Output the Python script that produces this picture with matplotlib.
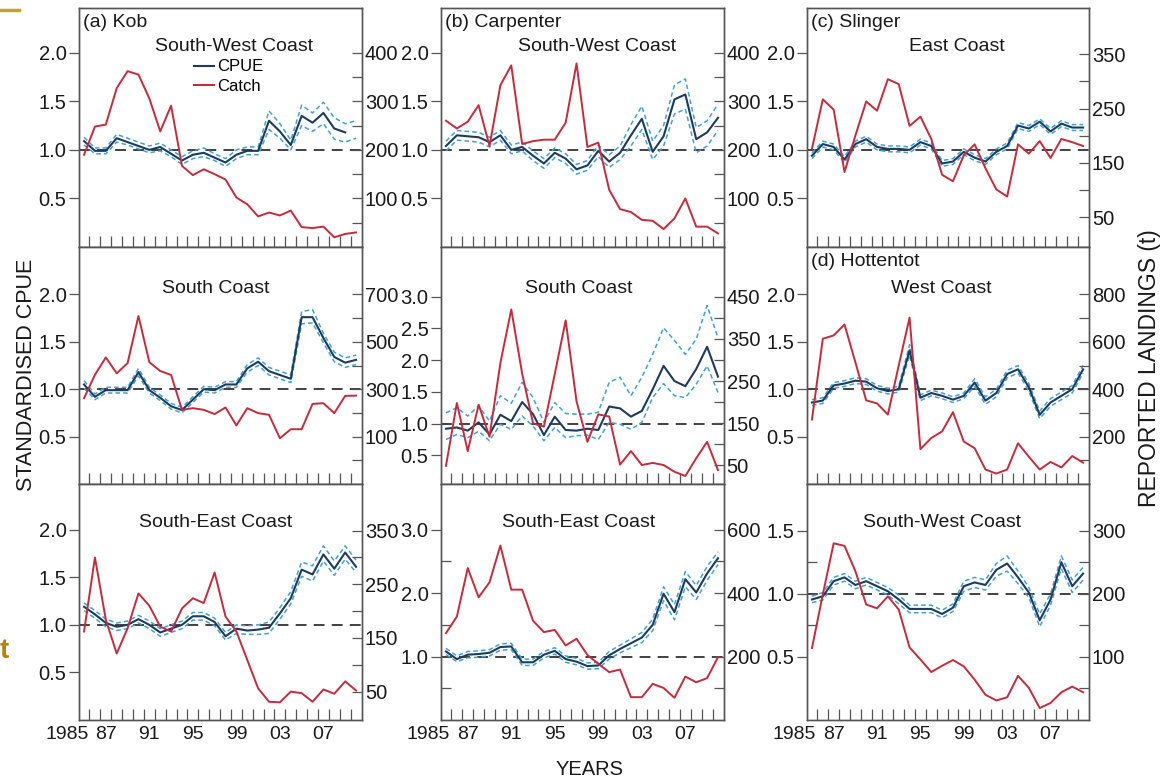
import numpy as np
import matplotlib.pyplot as plt
from matplotlib.lines import Line2D

plt.rcParams['font.family'] = ['Liberation Sans', 'DejaVu Sans']

years = np.arange(1985, 2011)
nan = np.nan

# (a) Kob - South-West Coast
kob_sw_cpue = [1.09, 0.99, 0.99, 1.12, 1.08, 1.04, 1.00, 1.03, 0.96, 0.89, 0.95, 0.97, 0.92,
               0.87, 0.95, 0.99, 0.99, 1.30, 1.19, 1.05, 1.35, 1.28, 1.38, 1.22, 1.18, nan]
kob_sw_lo = [1.05, 0.96, 0.96, 1.08, 1.05, 1.01, 0.97, 0.99, 0.93, 0.85, 0.91, 0.93, 0.89,
             0.83, 0.91, 0.95, 0.95, 1.21, 1.12, 1.00, 1.25, 1.19, 1.27, 1.11, 1.08, 1.12]
kob_sw_hi = [1.13, 1.02, 1.02, 1.16, 1.12, 1.08, 1.04, 1.07, 1.00, 0.93, 0.99, 1.02, 0.96,
             0.91, 1.00, 1.03, 1.03, 1.40, 1.27, 1.10, 1.46, 1.38, 1.49, 1.33, 1.27, 1.30]
kob_sw_catch = [190, 248, 252, 327, 362, 355, 306, 238, 291, 167, 148, 160, 150,
                139, 102, 88, 63, 71, 65, 75, 41, 39, 42, 20, 27, 30]

# (b) Carpenter - South-West Coast
carp_sw_cpue = [1.04, 1.15, 1.14, 1.13, 1.08, 1.15, 1.00, 1.03, 0.94, 0.86, 0.97, 0.91, 0.80,
                0.84, 0.99, 0.88, 0.97, 1.15, 1.32, 0.98, 1.14, 1.52, 1.57, 1.11, 1.18, 1.33]
carp_sw_lo = [0.99, 1.10, 1.09, 1.08, 1.03, 1.10, 0.96, 0.99, 0.89, 0.81, 0.92, 0.86, 0.75,
              0.79, 0.93, 0.82, 0.90, 1.04, 1.21, 0.90, 1.04, 1.37, 1.42, 0.97, 1.04, 1.20]
carp_sw_hi = [1.09, 1.20, 1.19, 1.18, 1.13, 1.20, 1.05, 1.08, 0.99, 0.91, 1.02, 0.96, 0.85,
              0.89, 1.05, 0.95, 1.04, 1.26, 1.45, 1.09, 1.25, 1.67, 1.73, 1.23, 1.30, 1.47]
carp_sw_catch = [260, 244, 258, 292, 208, 333, 374, 212, 218, 221, 221, 256, 378,
                 206, 215, 118, 78, 72, 56, 54, 37, 59, 100, 42, 42, 28]

# (c) Slinger - East Coast
sling_cpue = [0.94, 1.06, 1.03, 0.90, 1.06, 1.11, 1.03, 1.01, 1.01, 1.00, 1.08, 1.04, 0.86,
              0.88, 0.98, 0.92, 0.88, 0.98, 1.04, 1.25, 1.22, 1.29, 1.19, 1.27, 1.23, 1.23]
sling_lo = [0.91, 1.03, 1.00, 0.87, 1.03, 1.08, 1.00, 0.98, 0.98, 0.97, 1.05, 1.01, 0.83,
            0.85, 0.95, 0.89, 0.85, 0.95, 1.01, 1.22, 1.19, 1.26, 1.16, 1.24, 1.20, 1.20]
sling_hi = [0.97, 1.09, 1.06, 0.93, 1.09, 1.14, 1.06, 1.04, 1.04, 1.03, 1.11, 1.07, 0.89,
            0.91, 1.01, 0.95, 0.91, 1.01, 1.07, 1.28, 1.25, 1.32, 1.22, 1.30, 1.26, 1.26]
sling_catch = [176, 267, 248, 133, 200, 263, 246, 304, 295, 218, 235, 194, 128,
               116, 164, 184, 140, 101, 88, 184, 167, 190, 159, 194, 188, 181]

# Kob - South Coast
kob_s_cpue = [1.05, 0.92, 0.99, 0.99, 0.99, 1.18, 0.99, 0.91, 0.82, 0.78, 0.89, 1.00, 0.99,
              1.05, 1.05, 1.22, 1.29, 1.19, 1.15, 1.11, 1.76, 1.76, 1.54, 1.34, 1.28, 1.31]
kob_s_lo = [1.01, 0.89, 0.96, 0.96, 0.96, 1.14, 0.96, 0.88, 0.79, 0.75, 0.86, 0.97, 0.96,
            1.02, 1.02, 1.18, 1.25, 1.15, 1.11, 1.07, 1.69, 1.70, 1.49, 1.29, 1.23, 1.26]
kob_s_hi = [1.09, 0.95, 1.02, 1.02, 1.02, 1.22, 1.02, 0.94, 0.85, 0.81, 0.92, 1.03, 1.02,
            1.08, 1.08, 1.26, 1.33, 1.23, 1.19, 1.15, 1.82, 1.84, 1.59, 1.39, 1.33, 1.36]
kob_s_catch = [262, 361, 434, 367, 410, 609, 414, 377, 360, 213, 220, 213, 195,
               223, 147, 220, 199, 192, 93, 131, 131, 238, 241, 199, 272, 273]

# Carpenter - South Coast
carp_s_cpue = [0.92, 0.94, 0.89, 1.02, 0.83, 1.14, 1.04, 1.34, 1.15, 0.82, 1.11, 0.90, 0.89,
               0.92, 0.90, 1.27, 1.24, 1.11, 1.20, 1.54, 1.91, 1.67, 1.59, 1.86, 2.21, 1.74]
carp_s_lo = [0.75, 0.83, 0.78, 0.88, 0.73, 0.99, 0.91, 1.12, 0.96, 0.73, 0.94, 0.78, 0.81,
             0.82, 0.75, 1.02, 0.99, 0.91, 1.02, 1.41, 1.63, 1.44, 1.41, 1.62, 1.91, 1.49]
carp_s_hi = [1.17, 1.25, 1.12, 1.28, 1.04, 1.44, 1.32, 1.65, 1.41, 1.02, 1.33, 1.16, 1.15,
             1.15, 1.18, 1.65, 1.73, 1.44, 1.73, 2.09, 2.51, 2.31, 2.09, 2.33, 2.86, 2.35]
carp_s_catch = [49, 198, 84, 194, 118, 293, 420, 268, 150, 142, 267, 394, 202,
                106, 171, 166, 52, 84, 51, 56, 51, 35, 25, 67, 106, 39]

# (d) Hottentot - West Coast
hot_w_cpue = [0.86, 0.88, 1.04, 1.06, 1.09, 1.08, 1.01, 0.98, 1.00, 1.41, 0.91, 0.96, 0.93,
              0.89, 0.93, 1.07, 0.88, 0.96, 1.16, 1.21, 1.02, 0.73, 0.86, 0.93, 1.00, 1.21]
hot_w_lo = [0.83, 0.85, 1.01, 1.03, 1.06, 1.05, 0.98, 0.95, 0.97, 1.36, 0.88, 0.93, 0.90,
            0.86, 0.90, 1.03, 0.84, 0.92, 1.12, 1.17, 0.98, 0.69, 0.82, 0.89, 0.96, 1.17]
hot_w_hi = [0.89, 0.91, 1.07, 1.09, 1.12, 1.11, 1.04, 1.01, 1.03, 1.47, 0.94, 0.99, 0.96,
            0.92, 0.96, 1.11, 0.92, 1.00, 1.20, 1.25, 1.06, 0.77, 0.90, 0.97, 1.04, 1.25]
hot_w_catch = [272, 613, 627, 673, 514, 353, 340, 293, 500, 702, 147, 194, 222,
               303, 179, 151, 61, 44, 61, 172, 115, 61, 93, 70, 118, 90]

# Kob - South-East Coast
kob_se_cpue = [1.19, 1.11, 1.02, 0.98, 1.00, 1.06, 1.00, 0.92, 0.96, 1.00, 1.09, 1.09, 1.03,
               0.88, 0.96, 0.94, 0.95, 0.97, 1.12, 1.28, 1.58, 1.53, 1.74, 1.59, 1.76, 1.61]
kob_se_lo = [1.15, 1.07, 0.98, 0.94, 0.96, 1.02, 0.96, 0.88, 0.92, 0.96, 1.05, 1.05, 0.99,
             0.84, 0.91, 0.90, 0.90, 0.91, 1.06, 1.22, 1.51, 1.46, 1.67, 1.52, 1.69, 1.55]
kob_se_hi = [1.23, 1.15, 1.06, 1.02, 1.04, 1.10, 1.04, 0.96, 1.00, 1.04, 1.13, 1.13, 1.07,
             0.92, 1.00, 0.99, 1.00, 1.03, 1.18, 1.35, 1.66, 1.62, 1.83, 1.67, 1.83, 1.68]
kob_se_catch = [162, 300, 184, 121, 168, 233, 210, 171, 162, 205, 224, 215, 272,
                190, 162, 109, 56, 31, 30, 50, 47, 31, 54, 46, 69, 52]

# Carpenter - South-East Coast
carp_se_cpue = [1.08, 0.96, 1.03, 1.04, 1.06, 1.15, 1.16, 0.91, 0.91, 1.03, 1.09, 0.96, 0.92,
                0.85, 0.86, 1.02, 1.12, 1.21, 1.30, 1.50, 1.99, 1.70, 2.22, 2.01, 2.31, 2.55]
carp_se_lo = [1.03, 0.92, 0.98, 0.99, 1.01, 1.10, 1.11, 0.86, 0.86, 0.98, 1.04, 0.91, 0.87,
              0.80, 0.81, 0.96, 1.06, 1.14, 1.22, 1.41, 1.88, 1.58, 2.10, 1.90, 2.20, 2.45]
carp_se_hi = [1.13, 1.01, 1.08, 1.09, 1.11, 1.20, 1.21, 0.96, 0.96, 1.08, 1.14, 1.01, 0.97,
              0.90, 0.91, 1.08, 1.18, 1.28, 1.38, 1.59, 2.10, 1.82, 2.34, 2.12, 2.42, 2.65]
carp_se_catch = [274, 326, 479, 387, 434, 550, 411, 411, 313, 277, 284, 235, 256,
                 205, 177, 151, 159, 72, 72, 114, 101, 70, 137, 119, 132, 198]

# Hottentot - South-West Coast
hot_sw_cpue = [0.955, 0.98, 1.10, 1.13, 1.07, 1.10, 1.06, 1.02, 0.955, 0.88, 0.88, 0.88, 0.84,
               0.89, 1.06, 1.09, 1.07, 1.19, 1.24, 1.13, 1.01, 0.79, 0.955, 1.25, 1.06, 1.16]
hot_sw_lo = [0.93, 0.95, 1.07, 1.10, 1.04, 1.07, 1.03, 0.99, 0.92, 0.85, 0.85, 0.85, 0.81,
             0.86, 1.02, 1.05, 1.03, 1.14, 1.18, 1.08, 0.97, 0.74, 0.91, 1.20, 1.01, 1.11]
hot_sw_hi = [0.98, 1.01, 1.13, 1.16, 1.10, 1.13, 1.09, 1.05, 0.99, 0.91, 0.91, 0.91, 0.87,
             0.92, 1.10, 1.13, 1.11, 1.24, 1.30, 1.18, 1.05, 0.84, 1.00, 1.30, 1.11, 1.21]
hot_sw_catch = [114, 199, 280, 276, 236, 183, 177, 196, 175, 115, 96, 76, 86,
                95, 85, 64, 40, 31, 36, 70, 51, 19, 27, 44, 53, 44]

year_labels = ['1985', '87', '91', '95', '99', '03', '07']

NAVY = '#1d3b5e'
RED = '#c62a3c'
CI = '#3fa3d2'
SPINE = '#555555'
TXT = '#1a1a1a'

panels = [
    dict(row=0, col=0, cpue=kob_sw_cpue, lo=kob_sw_lo, hi=kob_sw_hi, catch=kob_sw_catch,
         tag='(a) Kob', region='South-West Coast', rx=0.548,
         ylim=(0, 2.46), yt=[0.5, 1.0, 1.5, 2.0], ym=[],
         ylim2=(0, 492), yt2=[100, 200, 300, 400], ym2=[50, 150, 250, 350]),
    dict(row=0, col=1, cpue=carp_sw_cpue, lo=carp_sw_lo, hi=carp_sw_hi, catch=carp_sw_catch,
         tag='(b) Carpenter', region='South-West Coast', rx=0.553,
         ylim=(0, 2.46), yt=[0.5, 1.0, 1.5, 2.0], ym=[],
         ylim2=(0, 492), yt2=[100, 200, 300, 400], ym2=[50, 150, 250, 350]),
    dict(row=0, col=2, cpue=sling_cpue, lo=sling_lo, hi=sling_hi, catch=sling_catch,
         tag='(c) Slinger', region='East Coast', rx=0.532,
         ylim=(0, 2.46), yt=[0.5, 1.0, 1.5, 2.0], ym=[],
         ylim2=(-5, 435), yt2=[50, 150, 250, 350], ym2=[100, 200, 300]),
    dict(row=1, col=0, cpue=kob_s_cpue, lo=kob_s_lo, hi=kob_s_hi, catch=kob_s_catch,
         tag=None, region='South Coast', rx=0.484,
         ylim=(0, 2.5), yt=[0.5, 1.0, 1.5, 2.0], ym=[],
         ylim2=(-100, 900), yt2=[100, 300, 500, 700], ym2=[0, 200, 400, 600]),
    dict(row=1, col=1, cpue=carp_s_cpue, lo=carp_s_lo, hi=carp_s_hi, catch=carp_s_catch,
         tag=None, region='South Coast', rx=0.488,
         ylim=(0.05, 3.78), yt=[0.5, 1.0, 1.5, 2.0, 2.5, 3.0], ym=[],
         ylim2=(6, 568), yt2=[50, 150, 250, 350, 450], ym2=[100, 200, 300, 400]),
    dict(row=1, col=2, cpue=hot_w_cpue, lo=hot_w_lo, hi=hot_w_hi, catch=hot_w_catch,
         tag='(d) Hottentot', region='West Coast', rx=0.478,
         ylim=(0, 2.5), yt=[0.5, 1.0, 1.5, 2.0], ym=[],
         ylim2=(0, 1000), yt2=[200, 400, 600, 800], ym2=[100, 300, 500, 700]),
    dict(row=2, col=0, cpue=kob_se_cpue, lo=kob_se_lo, hi=kob_se_hi, catch=kob_se_catch,
         tag=None, region='South-East Coast', rx=0.484,
         ylim=(0, 2.48), yt=[0.5, 1.0, 1.5, 2.0], ym=[],
         ylim2=(-3, 437), yt2=[50, 150, 250, 350], ym2=[100, 200, 300]),
    dict(row=2, col=1, cpue=carp_se_cpue, lo=carp_se_lo, hi=carp_se_hi, catch=carp_se_catch,
         tag=None, region='South-East Coast', rx=0.488,
         ylim=(0, 3.72), yt=[1.0, 2.0, 3.0], ym=[0.5, 1.5, 2.5],
         ylim2=(0, 744), yt2=[200, 400, 600], ym2=[100, 300, 500]),
    dict(row=2, col=2, cpue=hot_sw_cpue, lo=hot_sw_lo, hi=hot_sw_hi, catch=hot_sw_catch,
         tag=None, region='South-West Coast', rx=0.479,
         ylim=(0, 1.87), yt=[0.5, 1.0, 1.5], ym=[0.75, 1.25],
         ylim2=(0, 374), yt2=[100, 200, 300], ym2=[50, 150, 250]),
]

col_left = [0.0678, 0.3782, 0.6921]
col_w = [0.2427, 0.2427, 0.2419]
row_bottom = [0.6833, 0.3795, 0.0769]
row_h = [0.3064, 0.3038, 0.3026]
region_y = [0.837, 0.827, 0.835]

fig = plt.figure(figsize=(11.66, 7.8), dpi=100)

for p in panels:
    r, c = p['row'], p['col']
    ax = fig.add_axes([col_left[c], row_bottom[r], col_w[c], row_h[r]])
    ax2 = ax.twinx()

    ax.axhline(1.0, color='#333333', lw=1.3, ls=(0, (6, 4)), zorder=1)
    ax.plot(years, p['lo'], color=CI, lw=1.1, ls=(0, (3, 2)), zorder=2)
    ax.plot(years, p['hi'], color=CI, lw=1.1, ls=(0, (3, 2)), zorder=2)
    ax.plot(years, p['cpue'], color=NAVY, lw=1.5, zorder=3)
    ax2.plot(years, p['catch'], color=RED, lw=1.4)

    ax.set_xlim(1984.54, 2010.55)
    ax.set_ylim(*p['ylim'])
    ax2.set_ylim(*p['ylim2'])

    # x axis: inward ticks at half years, labels on bottom row only
    ax.set_xticks(np.arange(1985.5, 2010, 1.0), minor=True)
    ax.set_xticks([1985.4, 1987, 1991, 1995, 1999, 2003, 2007])
    ax.tick_params(axis='x', which='minor', direction='in', length=8, width=0.9,
                   color=SPINE, bottom=True, top=False)
    ax.tick_params(axis='x', which='major', length=0, pad=4, labelsize=14,
                   labelcolor=TXT, labelbottom=(r == 2))
    if r == 2:
        ax.set_xticklabels(year_labels)
        ax.get_xticklabels()[0].set_horizontalalignment('right')

    # left axis
    ax.set_yticks(p['yt'])
    ax.set_yticklabels(['%.1f' % v for v in p['yt']])
    ax.set_yticks(p['ym'], minor=True)
    ax.tick_params(axis='y', which='major', direction='out', length=7, width=0.9,
                   color=SPINE, pad=2, labelsize=14.5, labelcolor=TXT)
    ax.tick_params(axis='y', which='minor', direction='in', length=7, width=0.9, color=SPINE)

    # right axis
    ax2.set_yticks(p['yt2'])
    ax2.set_yticks(p['ym2'], minor=True)
    ax2.tick_params(axis='y', which='both', direction='in', length=7, width=0.9,
                    color=SPINE, pad=2, labelsize=14.5, labelcolor=TXT)

    for a in (ax, ax2):
        for s in a.spines.values():
            s.set_color(SPINE)
            s.set_linewidth(1.0)

    if p['tag']:
        ax.text(0.014, 0.975, p['tag'], transform=ax.transAxes, ha='left', va='top',
                fontsize=14, color=TXT)
    ax.text(p['rx'], region_y[r], p['region'], transform=ax.transAxes, ha='center',
            va='center', fontsize=14, color=TXT)

    if r == 0 and c == 0:
        handles = [Line2D([], [], color=NAVY, lw=1.5), Line2D([], [], color=RED, lw=1.5)]
        ax.legend(handles, ['CPUE', 'Catch'], loc='upper left', bbox_to_anchor=(0.405, 0.785),
                  frameon=False, fontsize=12, handlelength=1.2, handletextpad=0.2,
                  labelspacing=0.25, borderpad=0, borderaxespad=0)

fig.text(0.023, 0.519, 'STANDARDISED CPUE', rotation=90, ha='center', va='center',
         fontsize=15.5, color=TXT)
fig.text(0.986, 0.528, 'REPORTED LANDINGS (t)', rotation=90, ha='center', va='center',
         fontsize=16.5, color=TXT)
fig.text(0.506, 0.013, 'YEARS', ha='center', va='center', fontsize=14.5, color=TXT)

# slide background remnants visible at the left edge
fig.add_artist(Line2D([0, 0.016], [0.987, 0.987], color='#c9a032', lw=2.5,
                      transform=fig.transFigure))
fig.text(0.0, 0.165, 't', ha='left', va='center', fontsize=20, fontweight='bold',
         color='#b5820f')

fig.savefig('out.png', dpi=100)
